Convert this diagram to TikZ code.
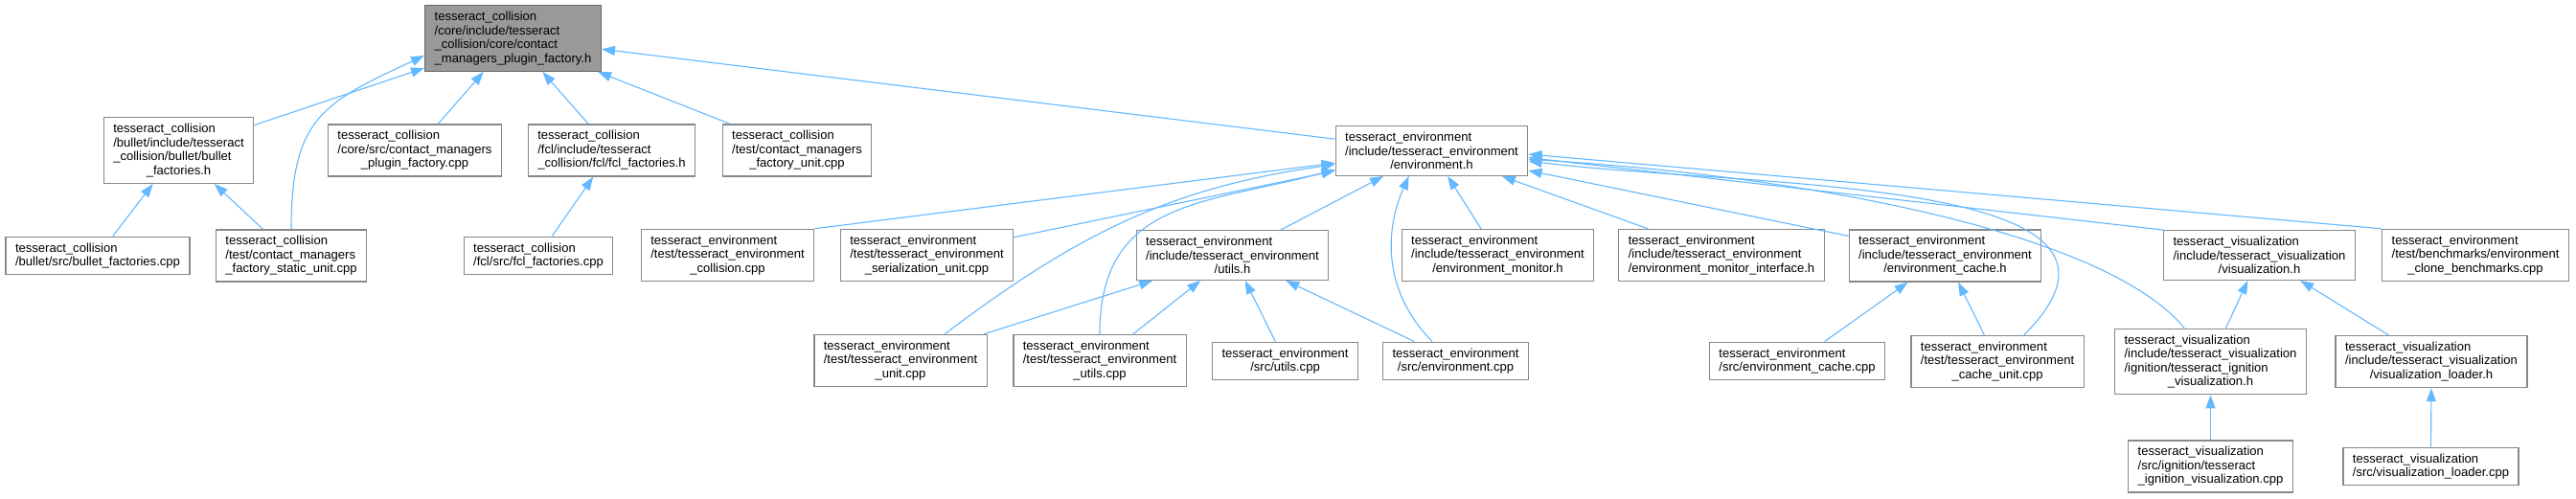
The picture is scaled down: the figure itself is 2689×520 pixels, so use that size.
\documentclass[tikz,border=0pt]{standalone}
\usepackage{fontspec}
\setmainfont{Liberation Sans}
\usetikzlibrary{arrows.meta}
\definecolor{edgeblue}{HTML}{63B8FF}
\definecolor{boxline}{HTML}{888888}
\definecolor{rootfill}{HTML}{999999}
\definecolor{rootline}{HTML}{666666}

\begin{document}
\begin{tikzpicture}[x=1pt,y=1pt,>={Triangle[length=14pt,width=10pt]},
  file/.style={draw=boxline,line width=1.3pt,fill=white,align=left,
    inner xsep=10pt,inner ysep=6.5pt,font=\fontsize{13.05}{14.5}\selectfont},
  rootfile/.style={file,fill=rootfill,draw=rootline},
  incl/.style={<-,draw=edgeblue,line width=1.1pt}]
  \useasboundingbox (0,0) rectangle (2689,-520);

  % top
  \node[rootfile] (root) at (535.5,-40) {tesseract\_collision\\/core/include/tesseract\\\_collision/core/contact\\\_managers\_plugin\_factory.h};

  % first row
  \node[file] (bulleth) at (186.5,-157) {tesseract\_collision\\/bullet/include/tesseract\\\_collision/bullet/bullet\\\hfil\_factories.h};
  \node[file] (corecpp) at (433,-157) {tesseract\_collision\\/core/src/contact\_managers\\\hfil\_plugin\_factory.cpp};
  \node[file] (fclh) at (638.5,-157) {tesseract\_collision\\/fcl/include/tesseract\\\_collision/fcl/fcl\_factories.h};
  \node[file] (factunit) at (832,-157) {tesseract\_collision\\/test/contact\_managers\\\hfil\_factory\_unit.cpp};
  \node[file] (envh) at (1494.5,-157.5) {tesseract\_environment\\/include/tesseract\_environment\\\hfil/environment.h};

  % second row
  \node[file] (bulletcpp) at (102,-267) {tesseract\_collision\\/bullet/src/bullet\_factories.cpp};
  \node[file] (staticunit) at (304,-267) {tesseract\_collision\\/test/contact\_managers\\\_factory\_static\_unit.cpp};
  \node[file] (fclcpp) at (562,-267) {tesseract\_collision\\/fcl/src/fcl\_factories.cpp};
  \node[file] (collision) at (759.5,-266.5) {tesseract\_environment\\/test/tesseract\_environment\\\hfil\_collision.cpp};
  \node[file] (serial) at (967.5,-266.5) {tesseract\_environment\\/test/tesseract\_environment\\\hfil\_serialization\_unit.cpp};
  \node[file] (utilsh) at (1286.5,-266.5) {tesseract\_environment\\/include/tesseract\_environment\\\hfil/utils.h};
  \node[file] (monitorh) at (1563.5,-266.5) {tesseract\_environment\\/include/tesseract\_environment\\\hfil/environment\_monitor.h};
  \node[file] (monifh) at (1797,-266.5) {tesseract\_environment\\/include/tesseract\_environment\\/environment\_monitor\_interface.h};
  \node[file] (cacheh) at (2030.5,-267) {tesseract\_environment\\/include/tesseract\_environment\\\hfil/environment\_cache.h};
  \node[file] (vish) at (2358.5,-266.5) {tesseract\_visualization\\/include/tesseract\_visualization\\\hfil/visualization.h};
  \node[file] (clone) at (2584,-266.5) {tesseract\_environment\\/test/benchmarks/environment\\\hfil\_clone\_benchmarks.cpp};

  % third row
  \node[file] (unitcpp) at (940,-376.5) {tesseract\_environment\\/test/tesseract\_environment\\\hfil\_unit.cpp};
  \node[file] (utilscpp) at (1148,-376.5) {tesseract\_environment\\/test/tesseract\_environment\\\hfil\_utils.cpp};
  \node[file] (srcutils) at (1341.5,-377) {tesseract\_environment\\\hfil/src/utils.cpp};
  \node[file] (envcpp) at (1519.5,-377) {tesseract\_environment\\\hfil/src/environment.cpp};
  \node[file] (cachecpp) at (1876,-377) {tesseract\_environment\\/src/environment\_cache.cpp};
  \node[file] (cacheunit) at (2085,-377.5) {tesseract\_environment\\/test/tesseract\_environment\\\hfil\_cache\_unit.cpp};
  \node[file] (ignh) at (2307.5,-377.5) {tesseract\_visualization\\/include/tesseract\_visualization\\/ignition/tesseract\_ignition\\\hfil\_visualization.h};
  \node[file] (loaderh) at (2538,-377.5) {tesseract\_visualization\\/include/tesseract\_visualization\\\hfil/visualization\_loader.h};

  % bottom row
  \node[file] (igncpp) at (2307.5,-487) {tesseract\_visualization\\/src/ignition/tesseract\\\_ignition\_visualization.cpp};
  \node[file] (loadercpp) at (2537.5,-487) {tesseract\_visualization\\/src/visualization\_loader.cpp};

  % includes of the plugin factory header
  \draw[incl] (root) -- (bulleth);
  \draw[incl] (root.191) to[out=205,in=90,looseness=1.3] (staticunit.north);
  \draw[incl] (root) -- (corecpp);
  \draw[incl] (root) -- (fclh);
  \draw[incl] (root) -- (factunit);
  \draw[incl] (root) -- (envh);
  \draw[incl] (bulleth) -- (bulletcpp);
  \draw[incl] (bulleth) -- (staticunit);
  \draw[incl] (fclh) -- (fclcpp);

  % includes of environment.h
  \draw[incl] (envh) -- (collision.north east);
  \draw[incl] (envh) -- (serial);
  \draw[incl] (envh) -- (utilsh);
  \draw[incl] (envh) -- (monitorh);
  \draw[incl] (envh) -- (monifh);
  \draw[incl] (envh) -- (cacheh);
  \draw[incl] (envh.-4) -- (vish.north west);
  \draw[incl] (envh.-2) -- (clone.north west);
  \draw[incl] (envh.188) to[out=188,in=37] (unitcpp.31);
  \draw[incl] (envh.191) to[out=195,in=90,looseness=1.2] (utilscpp.north);
  \draw[incl] (envh.228) to[out=246,in=135] (envcpp.140);
  \draw[incl] (envh.-6) to[out=-7,in=45,looseness=1.1] (cacheunit.45);
  \draw[incl] (envh.-5) .. controls (1900,-185) and (2200,-245) .. (ignh.128);

  % the rest
  \draw[incl] (utilsh) -- (unitcpp);
  \draw[incl] (utilsh) -- (utilscpp);
  \draw[incl] (utilsh) -- (srcutils);
  \draw[incl] (utilsh) -- (envcpp);
  \draw[incl] (cacheh) -- (cachecpp);
  \draw[incl] (cacheh) -- (cacheunit);
  \draw[incl] (vish) -- (ignh);
  \draw[incl] (vish) -- (loaderh);
  \draw[incl] (ignh) -- (igncpp);
  \draw[incl] (loaderh) -- (loadercpp);
\end{tikzpicture}
\end{document}
